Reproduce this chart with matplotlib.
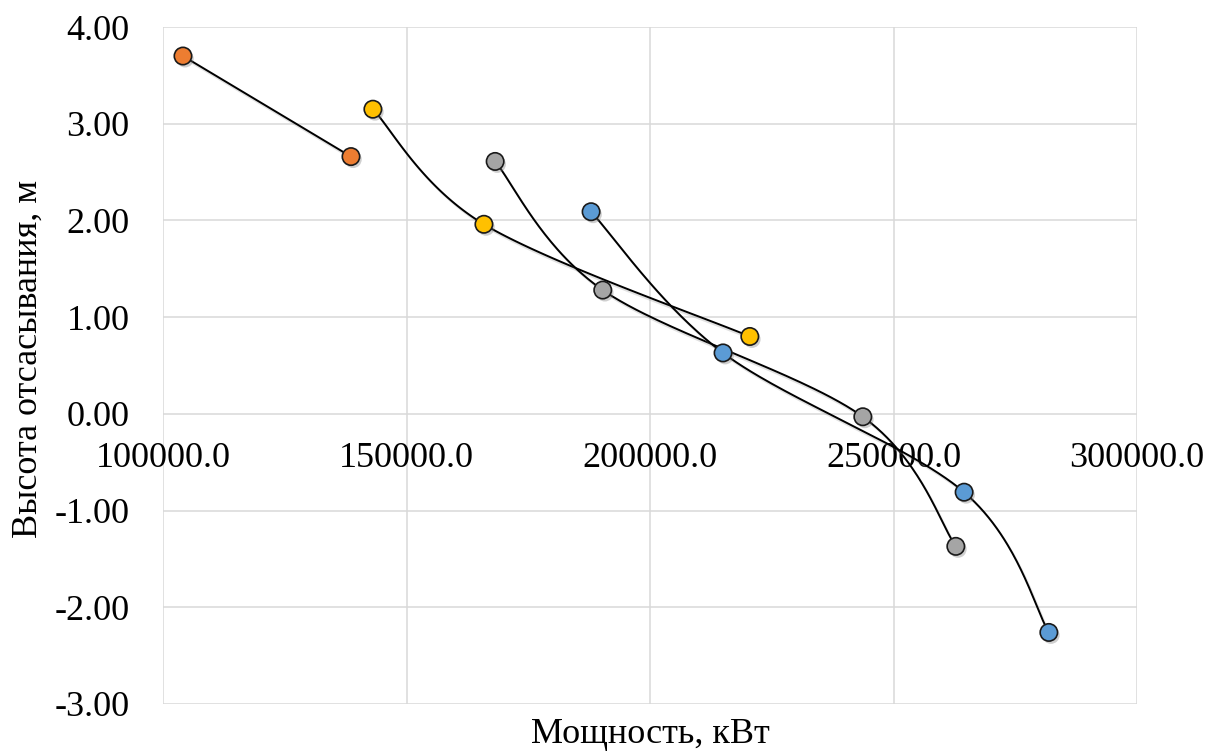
import numpy as np
import matplotlib
matplotlib.use("Agg")
import matplotlib.pyplot as plt
import matplotlib.patheffects as pe
from matplotlib.ticker import FuncFormatter

# Power (kW) vs. suction height (m) for four operating series
orange_x = [104100, 138600]
orange_y = [3.70, 2.66]
yellow_x = [143100, 165900, 220500]
yellow_y = [3.15, 1.96, 0.80]
gray_x = [168200, 190300, 243700, 262800]
gray_y = [2.61, 1.28, -0.03, -1.37]
blue_x = [187900, 215000, 264500, 281900]
blue_y = [2.09, 0.63, -0.81, -2.26]

x_ticks = [100000, 150000, 200000, 250000, 300000]
y_ticks = [-3, -2, -1, 0, 1, 2, 3, 4]

colors = {"orange": "#ED7D31", "yellow": "#FFC000", "gray": "#A5A5A5", "blue": "#5B9BD5"}
series = [
    (orange_x, orange_y, colors["orange"]),
    (yellow_x, yellow_y, colors["yellow"]),
    (gray_x, gray_y, colors["gray"]),
    (blue_x, blue_y, colors["blue"]),
]


def smooth_curve(xs, ys, n=60):
    """Piecewise cubic Bezier through the points (Catmull-Rom style tangents)."""
    p = np.column_stack([xs, ys]).astype(float)
    if len(p) < 3:
        return p[:, 0], p[:, 1]
    ext = np.vstack([p[0], p, p[-1]])
    out = []
    t = np.linspace(0, 1, n)[:, None]
    for i in range(len(p) - 1):
        p0, p1, p2, p3 = ext[i], ext[i + 1], ext[i + 2], ext[i + 3]
        c1 = p1 + (p2 - p0) / 6.0
        c2 = p2 - (p3 - p1) / 6.0
        seg = ((1 - t) ** 3) * p1 + 3 * ((1 - t) ** 2) * t * c1 + 3 * (1 - t) * t ** 2 * c2 + t ** 3 * p2
        out.append(seg if i == 0 else seg[1:])
    seg = np.vstack(out)
    return seg[:, 0], seg[:, 1]


plt.rcParams["font.family"] = ["Liberation Serif", "DejaVu Serif"]

fig = plt.figure(figsize=(12.27, 7.53), dpi=100)
ax = fig.add_axes([163 / 1227, 49 / 753, 974 / 1227, 677 / 753])

for xs, ys, c in series:
    sx, sy = smooth_curve(xs, ys)
    ax.plot(sx, sy, color="black", lw=1.4, zorder=3, solid_capstyle="round",
            path_effects=[pe.SimpleLineShadow(offset=(1.5, -2), shadow_color="#888888", alpha=0.25),
                          pe.Normal()])

for xs, ys, c in series:
    ax.plot(xs, ys, linestyle="none", marker="o", markersize=12.5,
            markerfacecolor=c, markeredgecolor="#1a1a1a", markeredgewidth=1.2, zorder=4,
            path_effects=[pe.SimplePatchShadow(offset=(1.5, -2), shadow_rgbFace="#777777", alpha=0.35),
                          pe.Normal()])

ax.set_xlim(100000, 300000)
ax.set_ylim(-3, 4)
ax.set_xticks(x_ticks)
ax.set_yticks(y_ticks)
ax.xaxis.set_major_formatter(FuncFormatter(lambda v, _: f"{v:.1f}"))
ax.yaxis.set_major_formatter(FuncFormatter(lambda v, _: f"{v:.2f}"))

ax.grid(True, color="#d9d9d9", lw=1.1, zorder=0)
ax.set_axisbelow(True)
for s in ["top", "right", "bottom", "left"]:
    ax.spines[s].set_visible(False)
ax.spines["bottom"].set_position(("data", 0))

ax.tick_params(axis="x", length=0, pad=20, labelsize=26)
ax.tick_params(axis="y", length=0, pad=24, labelsize=26)

ax.set_xlabel("Мощность, кВт", fontsize=26)
ax.set_ylabel("Высота отсасывания, м", fontsize=26)
ax.xaxis.set_label_coords(0.5, -0.021)
ax.yaxis.set_label_coords(-0.121, 0.51)

fig.savefig("out.png", dpi=100)
